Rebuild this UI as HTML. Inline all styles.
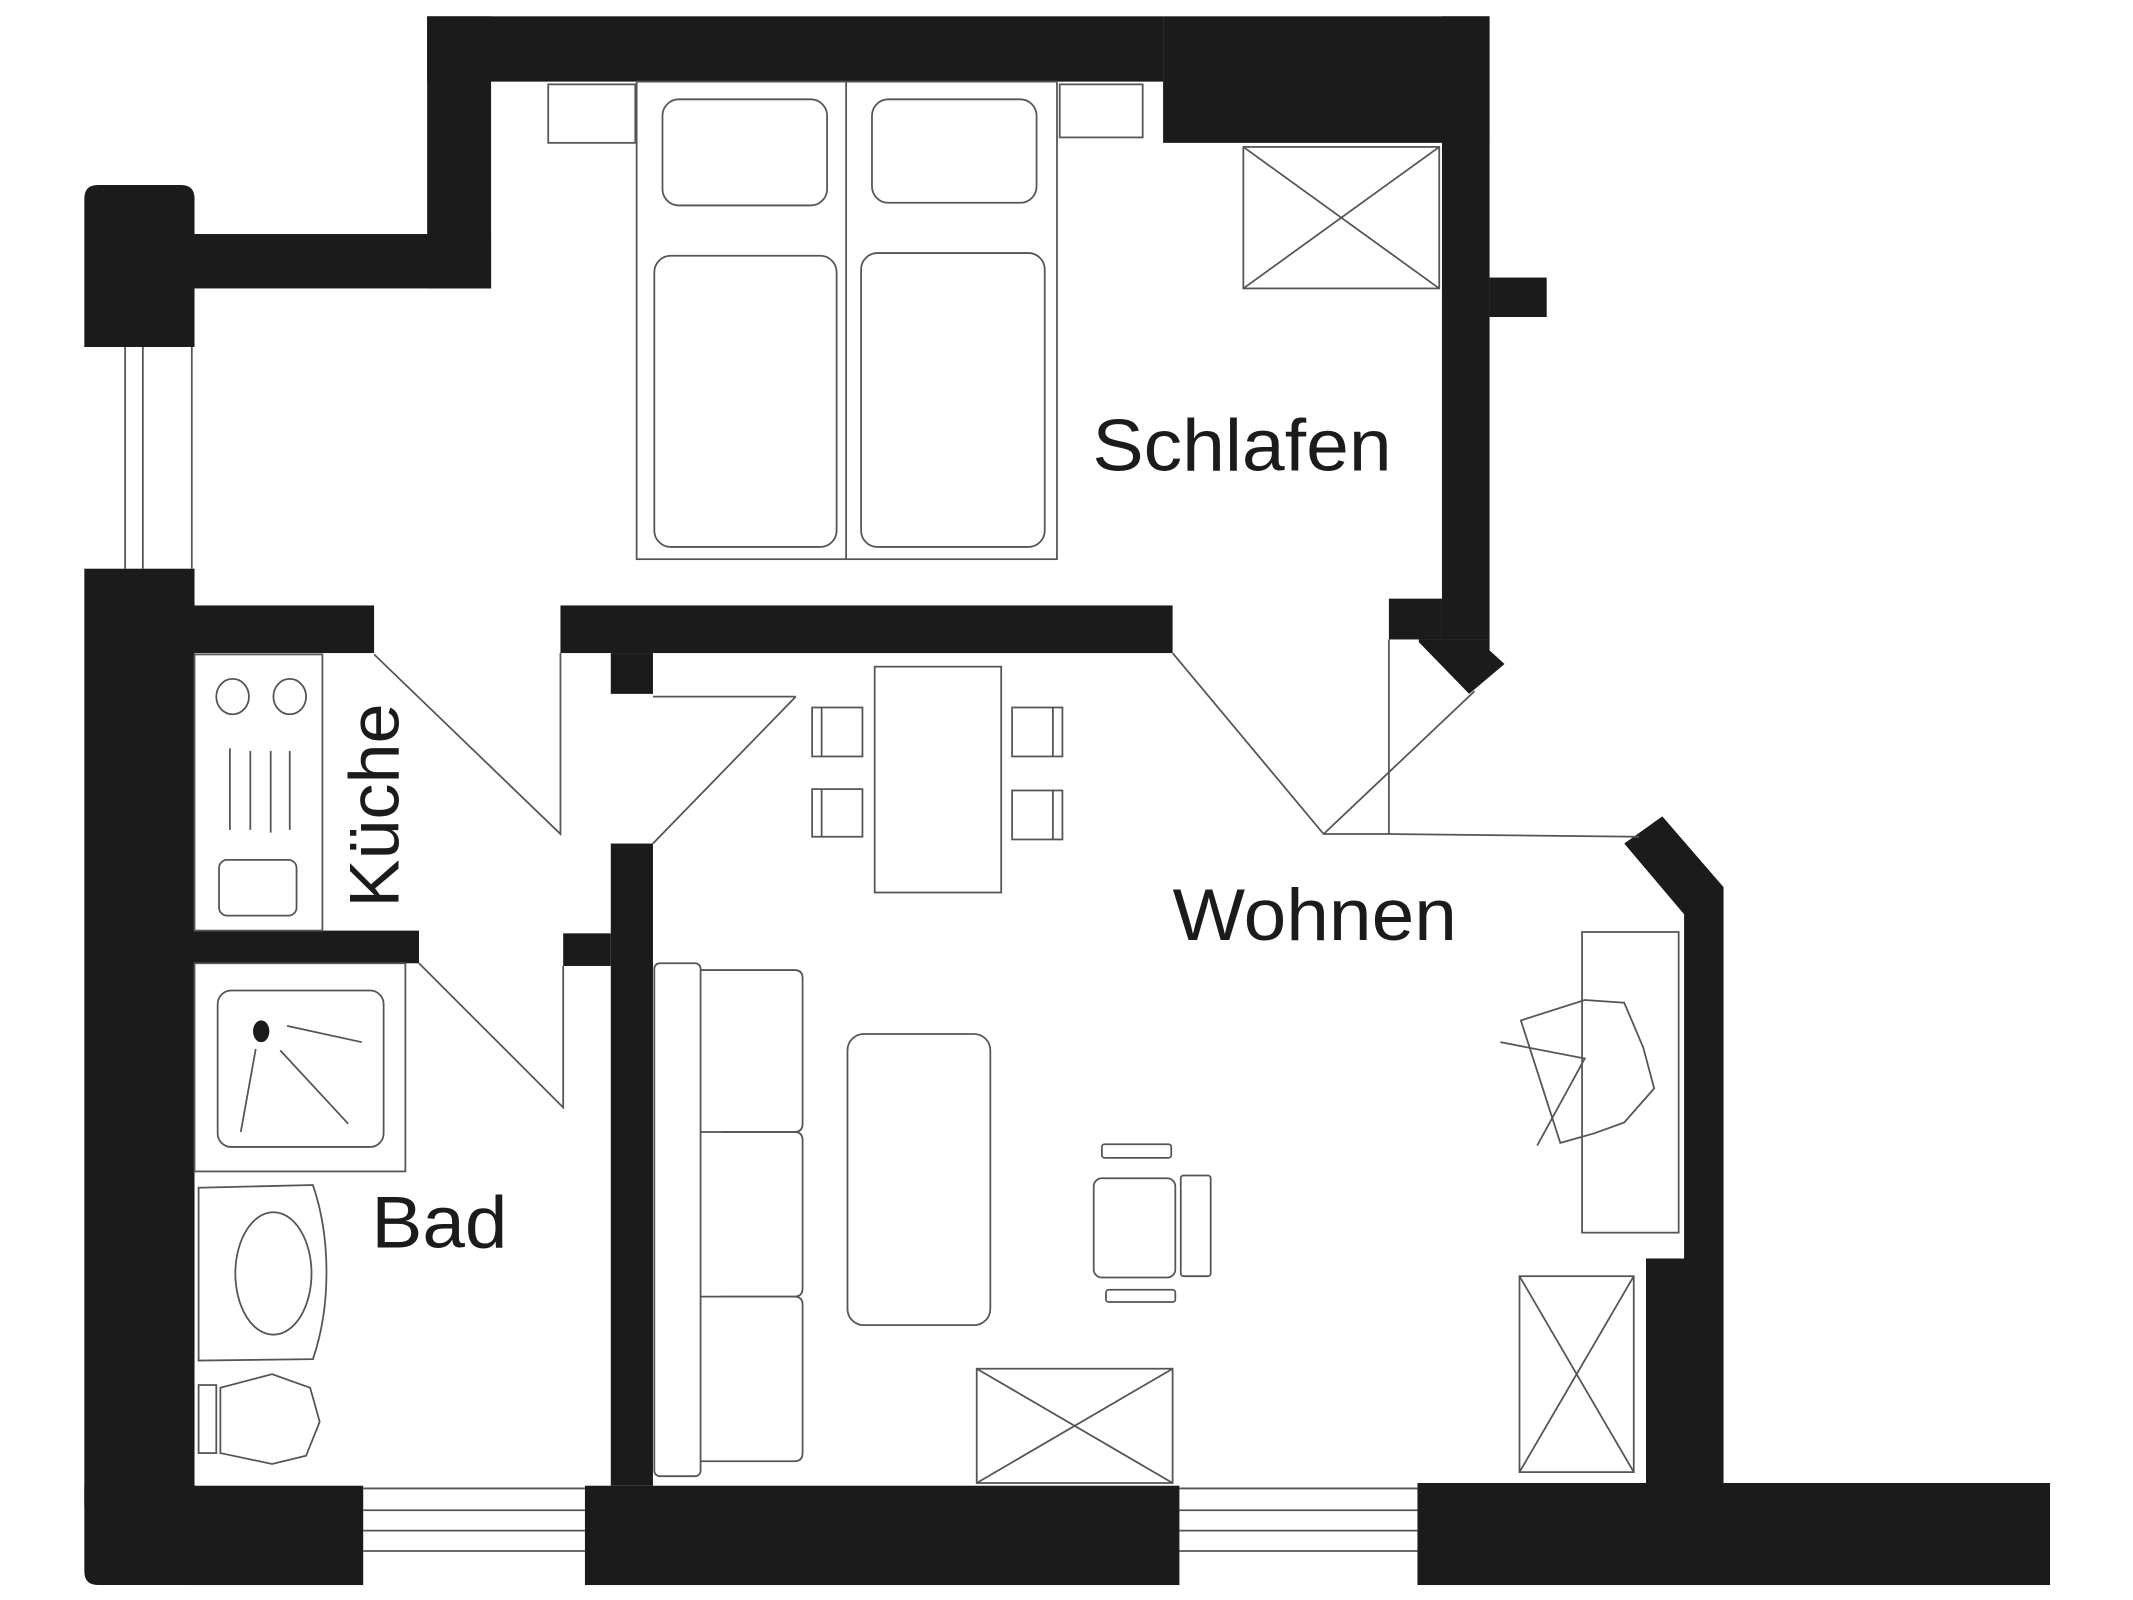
<!DOCTYPE html>
<html><head><meta charset="utf-8"><style>
html,body{margin:0;padding:0;background:#fff;}
svg{display:block;}
text{font-family:"Liberation Sans",sans-serif;fill:#1b1b1b;}
</style></head><body>
<svg width="2133" height="1600" viewBox="0 0 1568 1176" preserveAspectRatio="none" xmlns="http://www.w3.org/2000/svg">
<g fill="#1b1b1b">
<rect x="314" y="12" width="541" height="48"/>
<rect x="855" y="12" width="240" height="93"/>
<rect x="1060" y="12" width="35" height="458"/>
<rect x="1095" y="204" width="42" height="29"/>
<rect x="314" y="12" width="47" height="200"/>
<rect x="143" y="172" width="218" height="40"/>
<path d="M62 146 Q62 136 72 136 L133 136 Q143 136 143 146 L143 255 L62 255 Z"/>
<rect x="62" y="418" width="81" height="690"/>
<path d="M62 1092 L143 1092 L143 1165 L72 1165 Q62 1165 62 1155 Z"/>
<rect x="140" y="1092" width="127" height="73"/>
<rect x="430" y="1092" width="437" height="73"/>
<rect x="1042" y="1090" width="465" height="75"/>
<rect x="143" y="445" width="132" height="35"/>
<rect x="412" y="445" width="450" height="35"/>
<rect x="449" y="480" width="31" height="30"/>
<rect x="143" y="684" width="165" height="24"/>
<rect x="414" y="686" width="35" height="24"/>
<rect x="449" y="620" width="31" height="472"/>
<rect x="1021" y="440" width="39" height="30"/>
<polygon points="1043,470 1095,470 1095,478 1106,488 1080,510 1043,472"/>
<polygon points="1194,620 1222,600 1267,652 1267,1090 1210,1090 1210,925 1238,925 1238,672"/>
<ellipse cx="192" cy="758" rx="6" ry="8"/>
</g>
<g fill="none" stroke="#555" stroke-width="1.3">
<line x1="92" y1="255" x2="92" y2="418"/><line x1="105" y1="255" x2="105" y2="418"/><line x1="141" y1="255" x2="141" y2="418"/>
<line x1="267" y1="1094" x2="430" y2="1094"/><line x1="267" y1="1110" x2="430" y2="1110"/><line x1="267" y1="1125" x2="430" y2="1125"/><line x1="267" y1="1140" x2="430" y2="1140"/>
<line x1="867" y1="1094" x2="1042" y2="1094"/><line x1="867" y1="1110" x2="1042" y2="1110"/><line x1="867" y1="1125" x2="1042" y2="1125"/><line x1="867" y1="1140" x2="1042" y2="1140"/>
<rect x="403" y="62" width="64" height="43"/><rect x="779" y="62" width="61" height="39"/>
<rect x="468" y="60" width="309" height="351"/><line x1="622" y1="60" x2="622" y2="411"/>
<rect x="487" y="73" width="121" height="78" rx="12"/><rect x="641" y="73" width="121" height="76" rx="12"/>
<rect x="481" y="188" width="134" height="214" rx="12"/><rect x="633" y="186" width="135" height="216" rx="12"/>
<rect x="914" y="108" width="144" height="104"/><line x1="914" y1="108" x2="1058" y2="212"/><line x1="1058" y1="108" x2="914" y2="212"/>
<polyline points="275,481 412,613 412,480"/>
<polyline points="585,512 480,620"/><line x1="480" y1="512" x2="585" y2="512"/>
<polyline points="308,708 414,814 414,710"/>
<polyline points="862,480 973,613 1021,613 1021,470"/>
<line x1="973" y1="613" x2="1084" y2="508"/>
<line x1="1021" y1="613" x2="1205" y2="615"/>
<rect x="143" y="481" width="94" height="203"/>
<ellipse cx="171" cy="512" rx="12" ry="13"/><ellipse cx="213" cy="512" rx="12" ry="13"/>
<line x1="169" y1="550" x2="169" y2="610"/><line x1="184" y1="552" x2="184" y2="610"/><line x1="199" y1="552" x2="199" y2="612"/><line x1="213" y1="552" x2="213" y2="610"/>
<rect x="161" y="632" width="57" height="41" rx="6"/>
<rect x="143" y="708" width="155" height="153"/>
<rect x="160" y="728" width="122" height="115" rx="10"/>
<line x1="211" y1="754" x2="266" y2="766"/><line x1="188" y1="771" x2="177" y2="832"/><line x1="206" y1="772" x2="256" y2="826"/>
<path d="M146 873 L230 871 Q240 900 240 935 Q240 970 230 999 L146 1000 Z"/>
<ellipse cx="201" cy="936" rx="28" ry="45"/>
<rect x="146" y="1018" width="13" height="50"/>
<polygon points="162,1020 200,1010 228,1020 235,1045 225,1070 200,1076 162,1068"/>
<rect x="643" y="490" width="93" height="166"/>
<rect x="597" y="520" width="37" height="36"/><rect x="597" y="580" width="37" height="35"/>
<rect x="744" y="520" width="37" height="36"/><rect x="744" y="581" width="37" height="36"/>
<line x1="604" y1="520" x2="604" y2="556"/><line x1="604" y1="580" x2="604" y2="615"/>
<line x1="774" y1="520" x2="774" y2="556"/><line x1="774" y1="581" x2="774" y2="617"/>
<rect x="481" y="708" width="34" height="377" rx="4"/>
<path d="M515 713 L584 713 Q590 713 590 719 L590 826 Q590 832 584 832 L530 832"/>
<path d="M515 832 L584 832 Q590 832 590 838 L590 947 Q590 953 584 953 L530 953"/>
<path d="M515 953 L584 953 Q590 953 590 959 L590 1068 Q590 1074 584 1074 L515 1074"/>
<rect x="623" y="760" width="105" height="214" rx="12"/>
<rect x="810" y="841" width="51" height="10" rx="2"/><rect x="813" y="948" width="51" height="9" rx="2"/>
<rect x="804" y="866" width="60" height="73" rx="6"/><rect x="868" y="864" width="22" height="74" rx="2"/>
<rect x="718" y="1006" width="144" height="84"/><line x1="718" y1="1006" x2="862" y2="1090"/><line x1="862" y1="1006" x2="718" y2="1090"/>
<rect x="1117" y="938" width="84" height="144"/><line x1="1117" y1="938" x2="1201" y2="1082"/><line x1="1201" y1="938" x2="1117" y2="1082"/>
<rect x="1163" y="685" width="71" height="221"/>
<polygon points="1118,750 1165,735 1194,737 1208,770 1216,800 1194,825 1172,833 1147,840"/>
<polyline points="1103,766 1165,778 1130,842"/>
</g>
<text x="803" y="346" font-size="54" textLength="220" lengthAdjust="spacingAndGlyphs">Schlafen</text>
<text x="862" y="691" font-size="54" textLength="209" lengthAdjust="spacingAndGlyphs">Wohnen</text>
<text x="273" y="917" font-size="54" textLength="100" lengthAdjust="spacingAndGlyphs">Bad</text>
<text transform="translate(293,667) rotate(-90)" font-size="52" textLength="150" lengthAdjust="spacingAndGlyphs">Küche</text>
</svg>
</body></html>
